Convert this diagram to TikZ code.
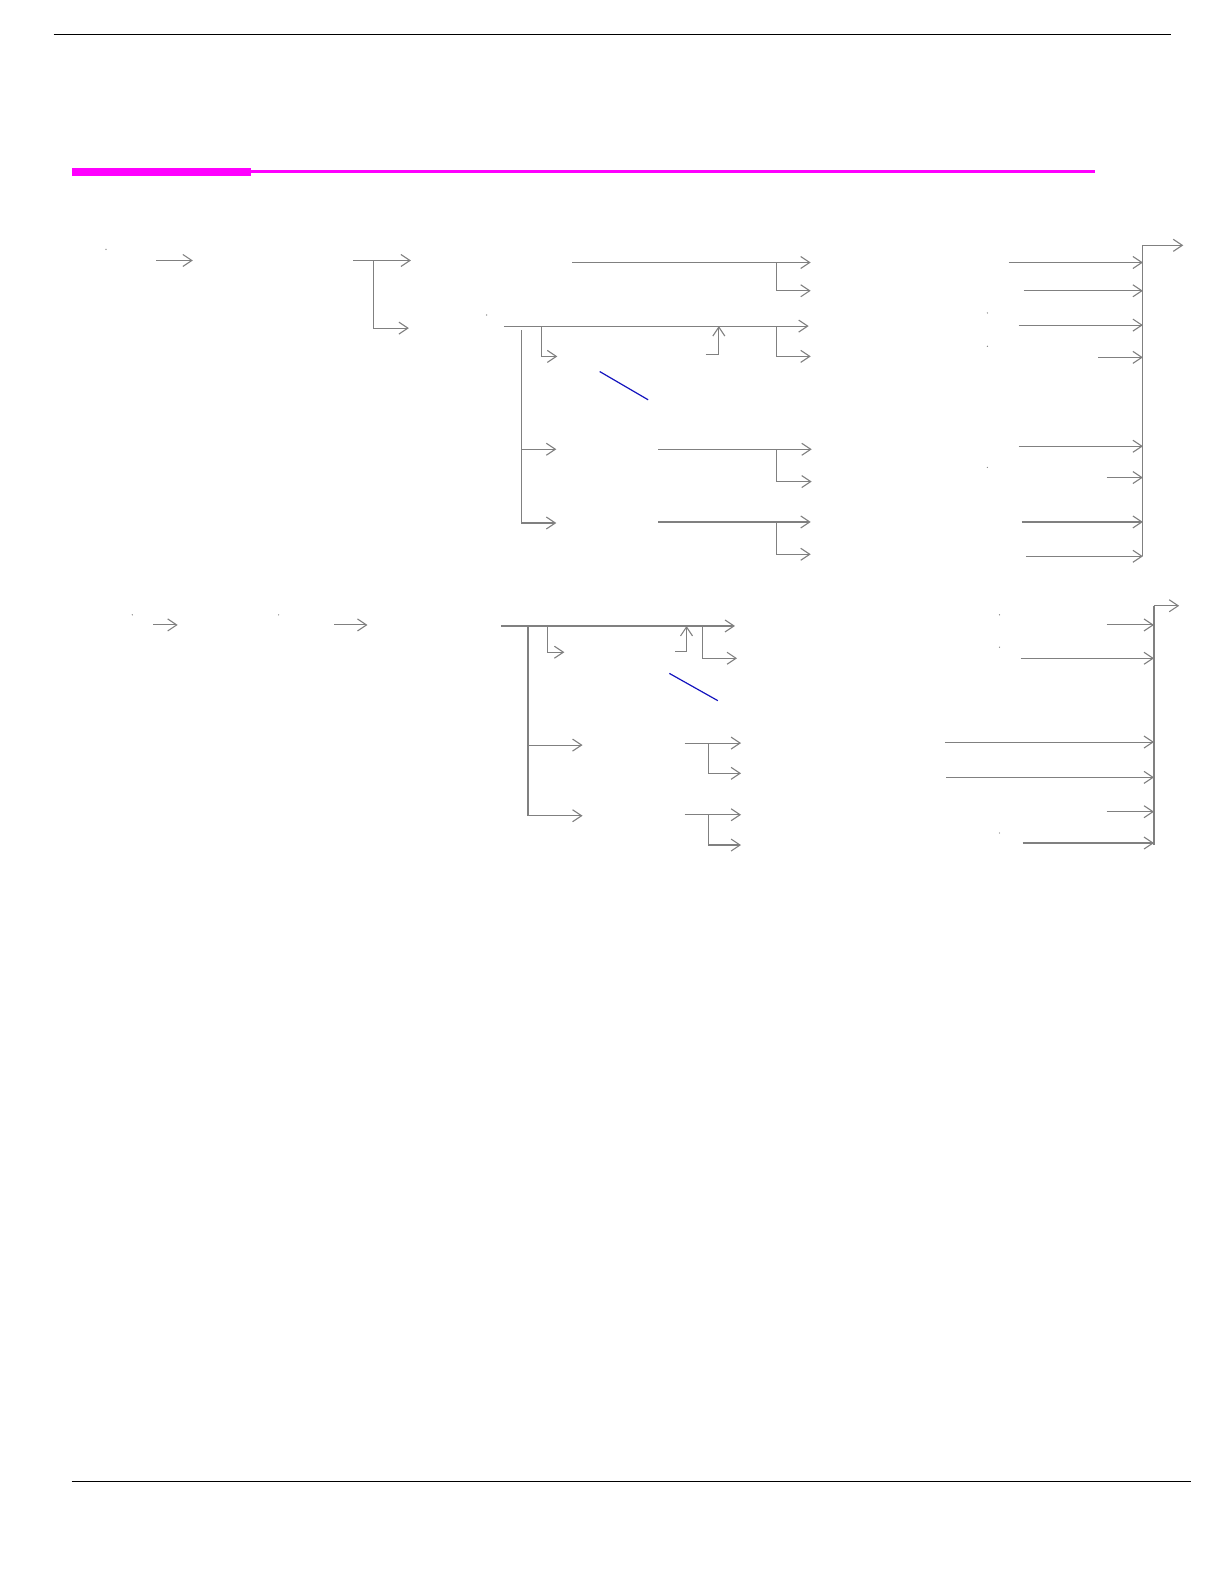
\documentclass[tikz,border=0pt]{standalone}
\usetikzlibrary{arrows.meta}
\definecolor{barmagenta}{RGB}{255,0,255}
\definecolor{slashblue}{RGB}{20,20,190}
\begin{document}
\begin{tikzpicture}[x=1.0096pt,y=-1.0096pt,
	flow/.style={draw=gray, line width=1.1pt, -{Straight Barb[length=9pt,width=12pt]}},
	rail/.style={draw=gray, line width=1.1pt},
	speck/.style={circle, fill=gray, inner sep=0pt, minimum size=1.3pt}]
	\useasboundingbox (0pt,0pt) rectangle (1224pt,-1582pt);

	% header and footer rules
	\draw[line width=1.3pt] (53,34) -- (1160,34);
	\fill[barmagenta] (71,166) rectangle (249,174);
	\draw[barmagenta, line width=2.3pt] (249,170) -- (1085,170);
	\draw[line width=0.9pt] (71,1467) -- (1180,1467);

	% upper chart
	\node[speck] (u1) at (105,247) {};
	\node[speck] (u2) at (482,312) {};
	\coordinate (ua0) at (155,258); \coordinate (ua1) at (191,258);
	\draw[flow] (ua0) -- (ua1);
	\coordinate (ub0) at (350,258); \coordinate (ub1) at (407,258);
	\coordinate (ubj) at (370,258); \coordinate (ub2) at (405,325);
	\draw[flow] (ub0) -- (ub1);
	\draw[flow] (ubj) |- (ub2);

	\coordinate (uc0) at (567,260); \coordinate (uc1) at (803,260);
	\coordinate (ucj) at (769,260); \coordinate (uc2) at (803,288);
	\draw[flow] (uc0) -- (uc1);
	\draw[flow] (ucj) |- (uc2);

	\coordinate (um0) at (499,323); \coordinate (um1) at (801,323);
	\draw[flow] (um0) -- (um1);
	\coordinate (umj) at (536,323); \coordinate (um2) at (552,353);
	\draw[flow] (umj) |- (um2);
	\coordinate (umk) at (769,323); \coordinate (um3) at (803,353);
	\draw[flow] (umk) |- (um3);
	\coordinate (uup0) at (699,351); \coordinate (uup1) at (712,323);
	\draw[flow] (uup0) -| (uup1);
	\draw[slashblue, line width=1.2pt] (594,368) -- (642,396);

	\coordinate (uv0) at (516.4,327);
	\coordinate (uv1) at (551,445); \coordinate (uv2) at (551,518);
	\draw[rail] (uv0) -- (uv0 |- uv2);
	\draw[flow] (uv0 |- uv1) -- (uv1);
	\draw[flow] (uv0 |- uv2) -- (uv2);

	\coordinate (ud0) at (652,445); \coordinate (ud1) at (804,445);
	\coordinate (udj) at (769,445); \coordinate (ud2) at (804,477);
	\draw[flow] (ud0) -- (ud1);
	\draw[flow] (udj) |- (ud2);
	\coordinate (ue0) at (652,517); \coordinate (ue1) at (803,517);
	\coordinate (uej) at (769,517); \coordinate (ue2) at (803,549);
	\draw[flow] (ue0) -- (ue1);
	\draw[flow] (uej) |- (ue2);

	% upper collecting bus
	\node[speck] (u3) at (978,310) {};
	\node[speck] (u4) at (978,343) {};
	\node[speck] (u5) at (978,463) {};
	\coordinate (ubt) at (1132,243); \coordinate (ubb) at (1132,551);
	\draw[rail] (ubt) -- (ubb);
	\draw[flow] (ubt) -- ++(40,0);
	\foreach \xs/\ys in {999/260, 1014/288, 1009/322, 1088/354, 1009/442, 1096/473, 1012/517, 1016/551}
		\draw[flow] (\xs,\ys) -- (ubt |- 0,\ys);

	% lower chart
	\node[speck] (l1) at (131,609) {};
	\node[speck] (l2) at (276,609) {};
	\coordinate (la0) at (152,619); \coordinate (la1) at (176,619);
	\draw[flow] (la0) -- (la1);
	\coordinate (lb0) at (331,619); \coordinate (lb1) at (364,619);
	\draw[flow] (lb0) -- (lb1);

	\coordinate (lm0) at (496,620); \coordinate (lm1) at (728,620);
	\draw[flow] (lm0) -- (lm1);
	\coordinate (lmj) at (542,620); \coordinate (lm2) at (559,646);
	\draw[flow] (lmj) |- (lm2);
	\coordinate (lmk) at (696,620); \coordinate (lm3) at (730,652);
	\draw[flow] (lmk) |- (lm3);
	\coordinate (lup0) at (669,645); \coordinate (lup1) at (680,620);
	\draw[flow] (lup0) -| (lup1);
	\draw[slashblue, line width=1.2pt] (663,667) -- (711,694);

	\coordinate (lv0) at (523,620);
	\coordinate (lv1) at (577,738); \coordinate (lv2) at (577,808);
	\draw[rail] (lv0) -- (lv0 |- lv2);
	\draw[flow] (lv0 |- lv1) -- (lv1);
	\draw[flow] (lv0 |- lv2) -- (lv2);

	\coordinate (ld0) at (678,736); \coordinate (ld1) at (734,736);
	\coordinate (ldj) at (702,736); \coordinate (ld2) at (734,766);
	\draw[flow] (ld0) -- (ld1);
	\draw[flow] (ldj) |- (ld2);
	\coordinate (le0) at (678,807); \coordinate (le1) at (734,807);
	\coordinate (lej) at (702,807); \coordinate (le2) at (734,837);
	\draw[flow] (le0) -- (le1);
	\draw[flow] (lej) |- (le2);

	% lower collecting bus
	\node[speck] (l3) at (990,609) {};
	\node[speck] (l4) at (990,641) {};
	\node[speck] (l5) at (990,825) {};
	\coordinate (lbt) at (1143,600); \coordinate (lbb) at (1143,837);
	\draw[rail] (lbt) -- (lbb);
	\draw[flow] (lbt) -- ++(25,0);
	\foreach \xs/\ys in {1096/619, 1011/652, 936/735, 937/770, 1096/804, 1013/835}
		\draw[flow] (\xs,\ys) -- (lbt |- 0,\ys);
\end{tikzpicture}
\end{document}
